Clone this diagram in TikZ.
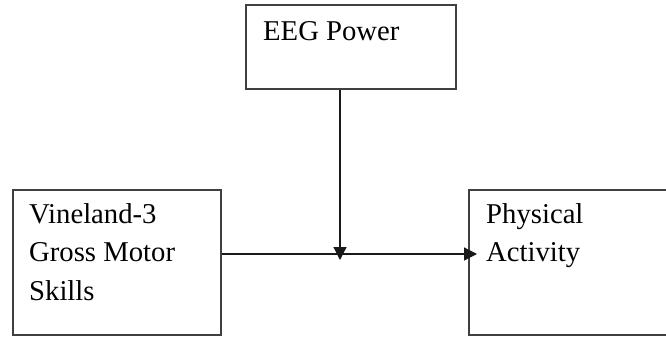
\documentclass[tikz,border=0pt]{standalone}
\usepackage{fontspec}
\setmainfont{Liberation Serif}
\newfontfamily\timesfont{Liberation Serif}
\usetikzlibrary{arrows.meta}
\begin{document}
\begin{tikzpicture}[x=1pt,y=-1pt,
  box/.style={draw=black!75,line width=1.6pt,anchor=north west,inner sep=0pt,fill=none},
  txt/.style={anchor=base west,inner sep=0pt,font=\timesfont\fontsize{28.7}{38.5}\selectfont},
  conn/.style={draw=black!90,line width=1.2pt,-{Triangle[length=13pt,width=13pt]}}]
\clip (0,0) rectangle (666,337);
\fill[white] (0,0) rectangle (666,337);
\node[box,minimum width=210pt,minimum height=84pt] (E) at (245,4) {};
\node[box,minimum width=230pt,minimum height=145pt] (R) at (468,189) {};
\node[box,minimum width=208pt,minimum height=145pt] (L) at (12,189) {};
\node[txt] (Et) at (263,41) {EEG Power};
\node[txt] (Lt) at (29,223) {\parbox[t]{190pt}{\timesfont\fontsize{28.7}{38.5}\selectfont\raggedright Vineland-3\\Gross Motor\\Skills}};
\node[txt] (Rt) at (486,223) {\parbox[t]{170pt}{\timesfont\fontsize{28.7}{38.5}\selectfont\raggedright Physical\\Activity}};
\coordinate (h) at (0,254);
\coordinate (v) at (340,260);
\draw[conn] (L.east |- h) -- (R.west |- h) [shorten >=-9pt];
\draw[conn] (E.south -| v) -- (v);
\end{tikzpicture}
\end{document}
